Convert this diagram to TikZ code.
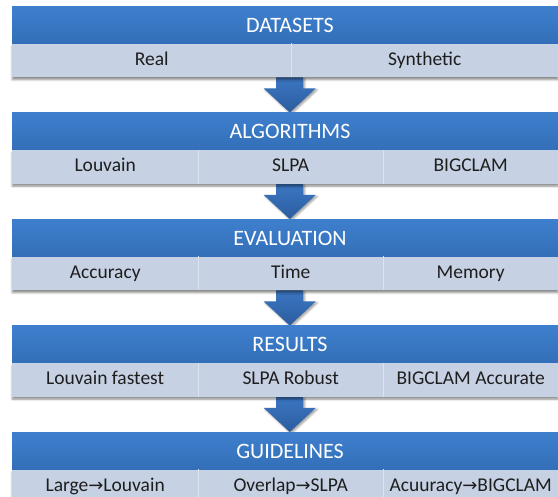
\documentclass[tikz,border=0pt]{standalone}
\usepackage{fontspec}
\setmainfont{Carlito}
\newfontfamily\arrowfont{DejaVu Sans}
\usetikzlibrary{calc,shadows.blur,backgrounds}
\definecolor{hdrtop}{HTML}{3E7FCD}
\definecolor{hdrbot}{HTML}{336FB8}
\definecolor{subfill}{HTML}{C6D1E3}
\definecolor{divcol}{HTML}{DCE3EF}
\definecolor{arrtop}{HTML}{3C76C2}
\definecolor{arrbot}{HTML}{2B5D9F}
\definecolor{txtdark}{HTML}{1E1E1E}
\newcommand{\rarr}{{\arrowfont\fontsize{18}{20}\selectfont →}}
\tikzset{
  hdr/.style={anchor=north west, minimum width=546pt, minimum height=37.5pt, inner sep=0pt,
    top color=hdrtop, bottom color=hdrbot, draw=none},
  hdrtext/.style={text=white, font=\fontsize{22}{24}\selectfont, inner sep=0pt,
    text height=15pt, text depth=0pt},
  subrow/.style={anchor=north west, minimum width=546pt, minimum height=33.5pt, inner sep=0pt,
    fill=subfill, draw=none,
    blur shadow={shadow xshift=0pt, shadow yshift=-2.5pt, shadow blur steps=6, shadow blur radius=2pt, shadow opacity=45}},
  cell/.style={anchor=north west, minimum height=33.5pt, inner sep=0pt,
    text=txtdark, font=\fontsize{19.5}{22}\selectfont, text height=13.5pt, text depth=4pt},
  divider/.style={draw=divcol, line width=0.9pt},
  blockarrow/.style={top color=arrtop, bottom color=arrbot, draw=none,
    blur shadow={shadow xshift=1.5pt, shadow yshift=-1.5pt, shadow blur steps=5, shadow blur radius=2pt, shadow opacity=40}}
}
\begin{document}
\begin{tikzpicture}[x=1pt,y=-1pt]
\useasboundingbox (0,0) rectangle (558,497);
\clip (0,0) rectangle (558,497);

% DATASETS
\node[hdr] (h1) at (12,6) {};
\node[hdrtext] (t1) at (290,24.75) {DATASETS};
\node[subrow] (s1) at (12,43.5) {};
\node[cell, minimum width=279pt] (c11) at (12,43.5) {Real};
\node[cell, minimum width=267pt] (c12) at (291,43.5) {Synthetic};
\draw[divider] (c11.north east) -- (c11.south east);

% ALGORITHMS
\node[hdr] (h2) at (12,112.5) {};
\node[hdrtext] (t2) at (290,131.25) {ALGORITHMS};
\node[subrow] (s2) at (12,150) {};
\node[cell, minimum width=186pt] (c21) at (12,150) {Louvain};
\node[cell, minimum width=185pt] (c22) at (198,150) {SLPA};
\node[cell, minimum width=175pt] (c23) at (383,150) {BIGCLAM};
\draw[divider] (c21.north east) -- (c21.south east);
\draw[divider] (c22.north east) -- (c22.south east);

% EVALUATION
\node[hdr] (h3) at (12,219) {};
\node[hdrtext] (t3) at (290,237.75) {EVALUATION};
\node[subrow] (s3) at (12,256.5) {};
\node[cell, minimum width=186pt] (c31) at (12,256.5) {Accuracy};
\node[cell, minimum width=185pt] (c32) at (198,256.5) {Time};
\node[cell, minimum width=175pt] (c33) at (383,256.5) {Memory};
\draw[divider] (c31.north east) -- (c31.south east);
\draw[divider] (c32.north east) -- (c32.south east);

% RESULTS
\node[hdr] (h4) at (12,325.5) {};
\node[hdrtext] (t4) at (290,344.25) {RESULTS};
\node[subrow] (s4) at (12,363) {};
\node[cell, minimum width=186pt] (c41) at (12,363) {Louvain fastest};
\node[cell, minimum width=185pt] (c42) at (198,363) {SLPA Robust};
\node[cell, minimum width=175pt] (c43) at (383,363) {BIGCLAM Accurate};
\draw[divider] (c41.north east) -- (c41.south east);
\draw[divider] (c42.north east) -- (c42.south east);

% GUIDELINES
\node[hdr] (h5) at (12,432) {};
\node[hdrtext] (t5) at (290,450.75) {GUIDELINES};
\node[subrow] (s5) at (12,469.5) {};
\node[cell, minimum width=186pt] (c51) at (12,469.5) {Large\rarr Louvain};
\node[cell, minimum width=185pt] (c52) at (198,469.5) {Overlap\rarr SLPA};
\node[cell, minimum width=175pt] (c53) at (383,469.5) {Acuuracy\rarr BIGCLAM};
\draw[divider] (c51.north east) -- (c51.south east);
\draw[divider] (c52.north east) -- (c52.south east);

% block arrows
\begin{pgfonlayer}{background}
\foreach \a/\b in {s1/h2, s2/h3, s3/h4, s4/h5}{
  \shade[blockarrow] let \p1=(\a.south), \p2=(\b.north) in
    (\x1-9pt,\y1) -- (\x1+18pt,\y1) -- (\x1+18pt,\y1-11pt) -- (\x1+30.5pt,\y1-11pt)
    -- (\x1+4.5pt,\y2) -- (\x1-21.5pt,\y1-11pt) -- (\x1-9pt,\y1-11pt) -- cycle;
}
\end{pgfonlayer}
\end{tikzpicture}
\end{document}
